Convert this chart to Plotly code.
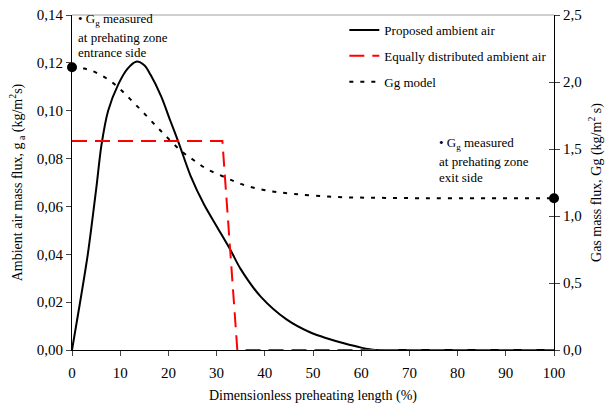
import plotly.graph_objects as go

# Proposed ambient air (left axis)
prop_x = [0, 1.6, 3.3, 5.06, 6.1, 7.5, 9.6, 11.5, 13.3, 15.0, 16.3, 18.5, 20.4, 22.1, 24.6, 27.4, 30.1, 32.9, 35.0, 39.2, 44.5, 49.6, 53.0, 56.4, 60.0, 63.0, 70, 80, 90, 100]
prop_y = [0, 0.019, 0.0403, 0.068, 0.0855, 0.100, 0.111, 0.1175, 0.1205, 0.119, 0.115, 0.106, 0.0958, 0.0868, 0.0728, 0.0608, 0.0514, 0.0417, 0.0338, 0.0222, 0.0128, 0.0072, 0.0048, 0.0028, 0.0010, 0.0, 0, 0, 0, 0]

# Equally distributed ambient air (left axis)
eq_x = [0, 31.2, 34.3, 100]
eq_y = [0.0873, 0.0873, 0.0, 0.0]

# Gg model (right axis)
gg_x = [0, 2.5, 5.0, 8.6, 13.5, 18.3, 22.5, 25.2, 28.0, 31.5, 35.0, 39.8, 46.0, 55.0, 65.0, 80.0, 100.0]
gg_y = [2.11, 2.10, 2.07, 1.99, 1.82, 1.64, 1.49, 1.418, 1.35, 1.293, 1.24, 1.194, 1.165, 1.142, 1.135, 1.132, 1.132]

# Measured Gg points (right axis)
meas_x = [0, 100]
meas_y = [2.11, 1.132]

x_ticks = [0, 10, 20, 30, 40, 50, 60, 70, 80, 90, 100]
left_ticks = [0, 0.02, 0.04, 0.06, 0.08, 0.10, 0.12, 0.14]
right_ticks = [0, 0.5, 1.0, 1.5, 2.0, 2.5]

FONT = "Liberation Serif, Times New Roman, Times, DejaVu Serif, serif"

fig = go.Figure()
fig.add_trace(go.Scatter(x=prop_x, y=prop_y, mode="lines", name="Proposed ambient air",
                         line=dict(color="black", width=2, shape="spline", smoothing=0.8),
                         legendgroup="a"))
fig.add_trace(go.Scatter(x=eq_x, y=eq_y, mode="lines", name="Equally distributed ambient air",
                         line=dict(color="#ff0000", width=2, dash="15px,8px"), legendgroup="b"))
fig.add_trace(go.Scatter(x=gg_x, y=gg_y, mode="lines", name="Gg model", yaxis="y2",
                         line=dict(color="black", width=2, dash="4px,7px", shape="spline"),
                         legendgroup="c"))
fig.add_trace(go.Scatter(x=meas_x, y=meas_y, mode="markers", yaxis="y2", showlegend=False,
                         marker=dict(color="black", size=10), cliponaxis=False))
# invisible trace to activate the inner tick axis on the right
fig.add_trace(go.Scatter(x=[None], y=[None], yaxis="y3", showlegend=False, hoverinfo="skip"))

fig.update_layout(
    width=608, height=408,
    margin=dict(l=72, r=54, t=15, b=58, autoexpand=False),
    paper_bgcolor="white", plot_bgcolor="white",
    separators=",.",
    font=dict(family=FONT, size=14, color="black"),
    showlegend=True,
    legend=dict(x=0.565, y=1.0, xanchor="left", yanchor="top",
                bgcolor="rgba(0,0,0,0)", font=dict(size=13, family=FONT),
                tracegroupgap=6, itemwidth=30),
    xaxis=dict(range=[0, 100], tickvals=x_ticks, ticks="outside", ticklen=5,
               automargin=False, ticklabelstandoff=4,
               showgrid=False, zeroline=False, showline=True, linecolor="black", linewidth=1,
               tickfont=dict(size=15, family=FONT),
               title=dict(text="Dimensionless preheating length (%)",
                          font=dict(size=14, family=FONT), standoff=10)),
    yaxis=dict(range=[0, 0.14], tickvals=left_ticks, tickformat=".2f", ticks="outside", ticklen=5,
               automargin=False,
               showgrid=False, zeroline=False, showline=True, linecolor="black", linewidth=1,
               tickfont=dict(size=15, family=FONT),
               title=dict(text="Ambient air mass flux, g<sub> a</sub> (kg/m<sup>2</sup>s)",
                          font=dict(size=14, family=FONT), standoff=10)),
    yaxis2=dict(range=[0, 2.5], tickvals=right_ticks, tickformat=".1f", overlaying="y", side="right",
                automargin=False,
                ticks="outside", ticklen=5, showgrid=False, zeroline=False, showline=True,
                linecolor="black", linewidth=1, tickfont=dict(size=15, family=FONT),
                title=dict(text="Gas mass flux, Gg (kg/m<sup>2</sup> s)",
                           font=dict(size=14, family=FONT), standoff=10)),
    yaxis3=dict(range=[0, 2.5], tickvals=right_ticks, overlaying="y", side="right",
                automargin=False, ticks="inside", ticklen=5, showticklabels=False,
                showgrid=False, zeroline=False, showline=False),
)

fig.add_shape(type="line", xref="paper", yref="paper", x0=0, x1=1, y0=1, y1=1,
              line=dict(color="#a0a0a0", width=1))

def note(x, ys, lines):
    for y, t in zip(ys, lines):
        fig.add_annotation(xref="paper", yref="paper", x=x, y=y, xanchor="left", yanchor="middle",
                           align="left", showarrow=False, font=dict(size=13, family=FONT), text=t)

note(0.008, [0.988, 0.934, 0.887],
     ["• G<sub>g</sub> measured", "at prehating zone", "entrance side"])
note(0.757, [0.615, 0.564, 0.516],
     ["• G<sub>g</sub> measured", "at prehating zone", "exit side"])

fig.write_html("out.html")
